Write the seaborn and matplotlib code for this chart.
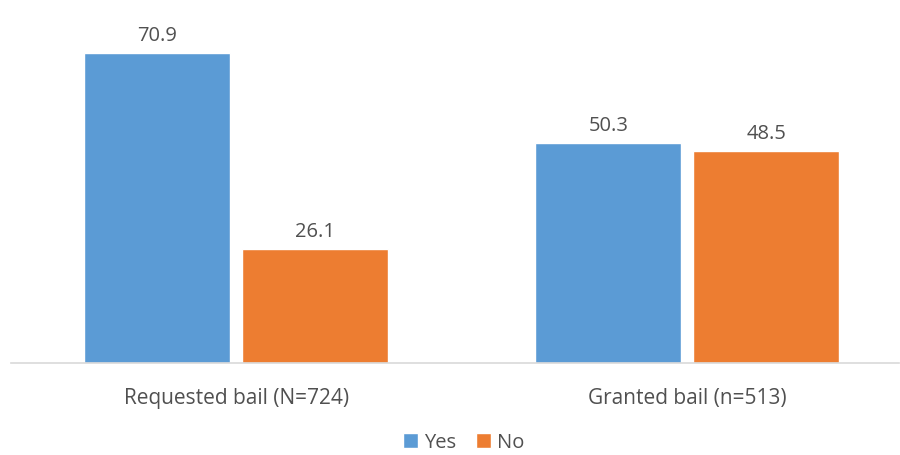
import matplotlib
matplotlib.use("Agg")
import matplotlib.pyplot as plt
import seaborn as sns
import pandas as pd

categories = ["Requested bail (N=724)", "Granted bail (n=513)"]
responses = ["Yes", "No"]
yes_values = [70.9, 50.3]
no_values = [26.1, 48.5]

df = pd.DataFrame({
    "category": categories * 2,
    "response": ["Yes"] * 2 + ["No"] * 2,
    "percent": yes_values + no_values,
})

sns.set_theme(style="white")
plt.rcParams["font.family"] = ["Open Sans", "DejaVu Sans"]

text_color = "#505050"
palette = {"Yes": "#5B9BD5", "No": "#ED7D31"}

fig = plt.figure(figsize=(9, 4.55), dpi=100)
ax = fig.add_axes([0.012, 0.2022, 0.987, 0.7538])

sns.barplot(data=df, x="category", y="percent", hue="response",
            hue_order=responses, palette=palette, width=0.70, gap=0.075,
            saturation=1, ax=ax, legend=True)

for container in ax.containers:
    ax.bar_label(container, fmt="%.1f", padding=5, fontsize=14.5, color=text_color)

ax.set_xlim(-0.5, 1.47)
ax.set_ylim(0, 78.45)
ax.set_xlabel("")
ax.set_ylabel("")
ax.set_yticks([])
ax.tick_params(axis="x", length=0, pad=18, labelsize=15, labelcolor=text_color)
for side in ["top", "left", "right"]:
    ax.spines[side].set_visible(False)
ax.spines["bottom"].set_color("#D9D9D9")
ax.spines["bottom"].set_linewidth(1.2)

leg = ax.legend(loc="center", bbox_to_anchor=(0.51, -0.232), ncol=2, frameon=False,
                fontsize=14.5, handlelength=0.75, handleheight=0.75,
                handletextpad=0.3, columnspacing=1.0, borderpad=0.1)
for t in leg.get_texts():
    t.set_color(text_color)

fig.savefig("out.png", dpi=100)
